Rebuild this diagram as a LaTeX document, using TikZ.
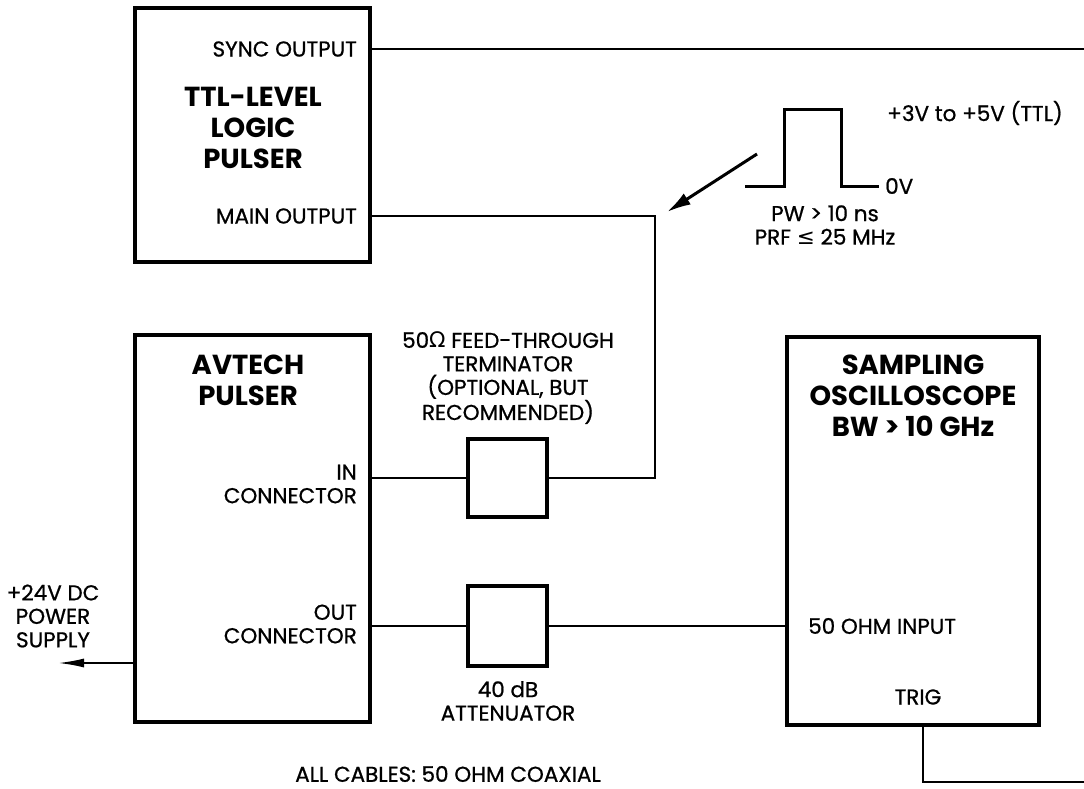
\documentclass[tikz,border=0pt]{standalone}
\usepackage{fontspec}
\setmainfont{Poppins}[UprightFeatures={FakeBold=0.8}]
\newfontfamily\symfont{DejaVu Sans}
\usetikzlibrary{arrows.meta}
\begin{document}
\begin{tikzpicture}[x=1pt,y=-1pt,
  box/.style={draw,line width=4pt,rectangle,inner sep=0pt},
  wire/.style={line width=2pt},
  lbl/.style={font=\fontsize{21.5}{23.5}\selectfont,inner sep=0pt},
  ttl/.style={font=\fontsize{27.5}{31}\selectfont\bfseries,inner sep=0pt,align=center}]
\useasboundingbox (0,0) rectangle (1084,789);
% boxes
\node[box,minimum width=235pt,minimum height=254pt] (ttlbox) at (252.5,135) {};
\node[box,minimum width=235pt,minimum height=387pt] (avtech) at (252.5,528.5) {};
\node[box,minimum width=252pt,minimum height=388pt] (scope) at (913,531) {};
\node[box,minimum width=79pt,minimum height=78pt] (term) at (507.5,478) {};
\node[box,minimum width=79pt,minimum height=80pt] (att) at (507.5,626) {};
% coordinates
\coordinate (syncR) at (1084,49);
\coordinate (mainA) at (655,216);
\coordinate (mainB) at (655,478);
\coordinate (pwr) at (58,663);
\coordinate (trigA) at (923,782);
\coordinate (trigR) at (1084,782);
% wires
\draw[wire] (ttlbox.east |- syncR) -- (syncR);
\draw[wire] (ttlbox.east |- mainA) -- (mainA) -- (mainB) -- (term.east);
\draw[wire] (avtech.east |- term.west) -- (term.west);
\draw[wire] (avtech.east |- att.west) -- (att.west);
\draw[wire] (att.east) -- (scope.west |- att.east);
\draw[wire,-{Latex[length=26pt,width=9pt]}] (avtech.west |- pwr) -- (pwr);
\draw[wire] (scope.south -| trigA) -- (trigA) -- (trigR);
% pulse
\coordinate (arrS) at (757,154);
\coordinate (arrE) at (667,212);
\draw[line width=3pt,-{Latex[length=24pt,width=13pt]}] (arrS) -- (arrE);
\draw[line width=3pt] (745,186) -- (784,186) -- (784,110) -- (841,110) -- (841,186) -- (879,186);
% labels
\node[lbl,anchor=east] (synclbl) at (357,49) {SYNC OUTPUT};
\node[lbl,anchor=east] (mainlbl) at (357,216) {MAIN OUTPUT};
\node[ttl] (ttltitle) at (253,128) {TTL-LEVEL\\LOGIC\\PULSER};
\node[ttl] (avtitle) at (248,380) {AVTECH\\PULSER};
\node[lbl,anchor=east,align=right] (inlbl) at (357,484) {IN\\CONNECTOR};
\node[lbl,anchor=east,align=right] (outlbl) at (357,624) {OUT\\CONNECTOR};
\node[lbl,align=center] (pwrlbl) at (53,616) {+24V DC\\POWER\\SUPPLY};
\node[lbl,align=center] (termlbl) at (508,378) {50{\symfont Ω} FEED-THROUGH\\TERMINATOR\\(OPTIONAL, BUT\\RECOMMENDED)};
\node[lbl,align=center] (attlbl) at (508,701) {40 dB\\ATTENUATOR};
\node[lbl] (cables) at (448,774) {ALL CABLES: 50 OHM COAXIAL};
\node[ttl] (scopetitle) at (913,396) {SAMPLING\\OSCILLOSCOPE\\BW > 10 GHz};
\node[lbl,anchor=west] (inputlbl) at (808,626) {50 OHM INPUT};
\node[lbl] (triglbl) at (918,697) {TRIG};
\node[lbl,anchor=west] (levlbl) at (887,113) {+3V to +5V (TTL)};
\node[lbl,anchor=west] (zerolbl) at (885,186) {0V};
\node[lbl,align=center] (pwlbl) at (825,225) {PW > 10 ns\\PRF {\symfont ≤} 25 MHz};
\end{tikzpicture}
\end{document}
